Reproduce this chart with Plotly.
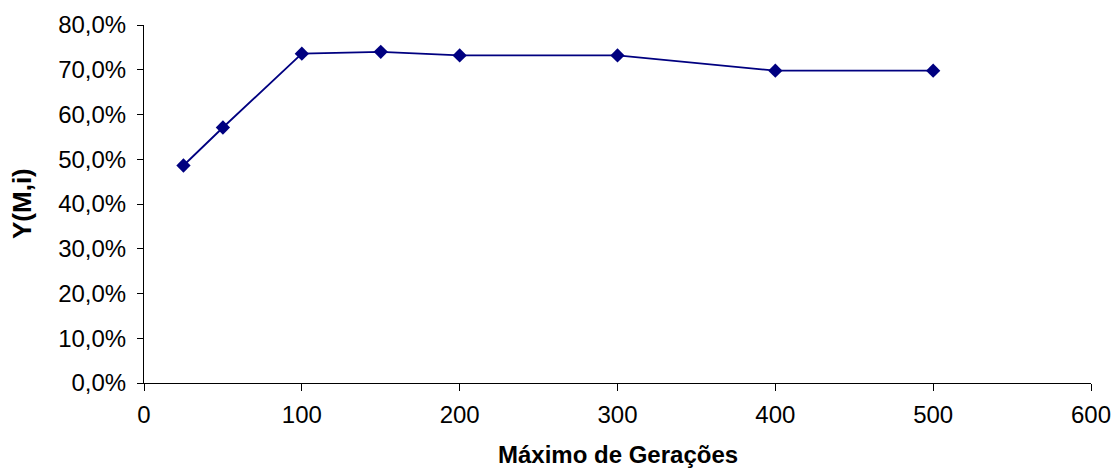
import plotly.graph_objects as go

geracoes = [25, 50, 100, 150, 200, 300, 400, 500]
y_mi = [0.486, 0.571, 0.736, 0.740, 0.732, 0.732, 0.698, 0.698]
x_ticks = [0, 100, 200, 300, 400, 500, 600]
y_ticks = [0.0, 0.1, 0.2, 0.3, 0.4, 0.5, 0.6, 0.7, 0.8]
x_title = "Máximo de Gerações"
y_title = "Y(M,i)"

fig = go.Figure()
fig.add_trace(go.Scatter(
    x=geracoes, y=y_mi, mode="lines+markers",
    line=dict(color="#000080", width=1.8),
    marker=dict(symbol="diamond", size=11, color="#000080"),
    showlegend=False,
))

font = dict(family="Liberation Sans, Arial, sans-serif", size=24, color="black")
fig.update_layout(
    width=1116, height=473,
    margin=dict(l=144, r=25, t=25, b=90),
    paper_bgcolor="white", plot_bgcolor="white",
    separators=",.",
    font=font,
    xaxis=dict(
        range=[0, 600], tickvals=x_ticks, ticks="outside", ticklen=7, tickcolor="black",
        showline=True, linecolor="black", linewidth=1, showgrid=False, zeroline=False,
        tickfont=dict(size=24), automargin=False, ticklabelstandoff=3,
    ),
    yaxis=dict(
        range=[0, 0.8], tickvals=y_ticks, tickformat=".1%", ticks="outside", ticklen=6, tickcolor="black",
        showline=True, linecolor="black", linewidth=1, showgrid=False, zeroline=False,
        tickfont=dict(size=24), automargin=False, ticklabelstandoff=6,
    ),
    annotations=[
        dict(text="<b>" + x_title + "</b>", xref="paper", yref="paper", x=0.5, y=0,
             xanchor="center", yanchor="middle", yshift=-71, showarrow=False,
             font=dict(size=24)),
        dict(text="<b>" + y_title + "</b>", xref="paper", yref="paper", x=0, y=0.5,
             xanchor="center", yanchor="middle", xshift=-122, textangle=-90, showarrow=False,
             font=dict(size=26)),
    ],
)
fig.write_html("out.html", config={"displayModeBar": False},
               post_script="document.body.style.margin='0';document.body.style.overflow='hidden';")
